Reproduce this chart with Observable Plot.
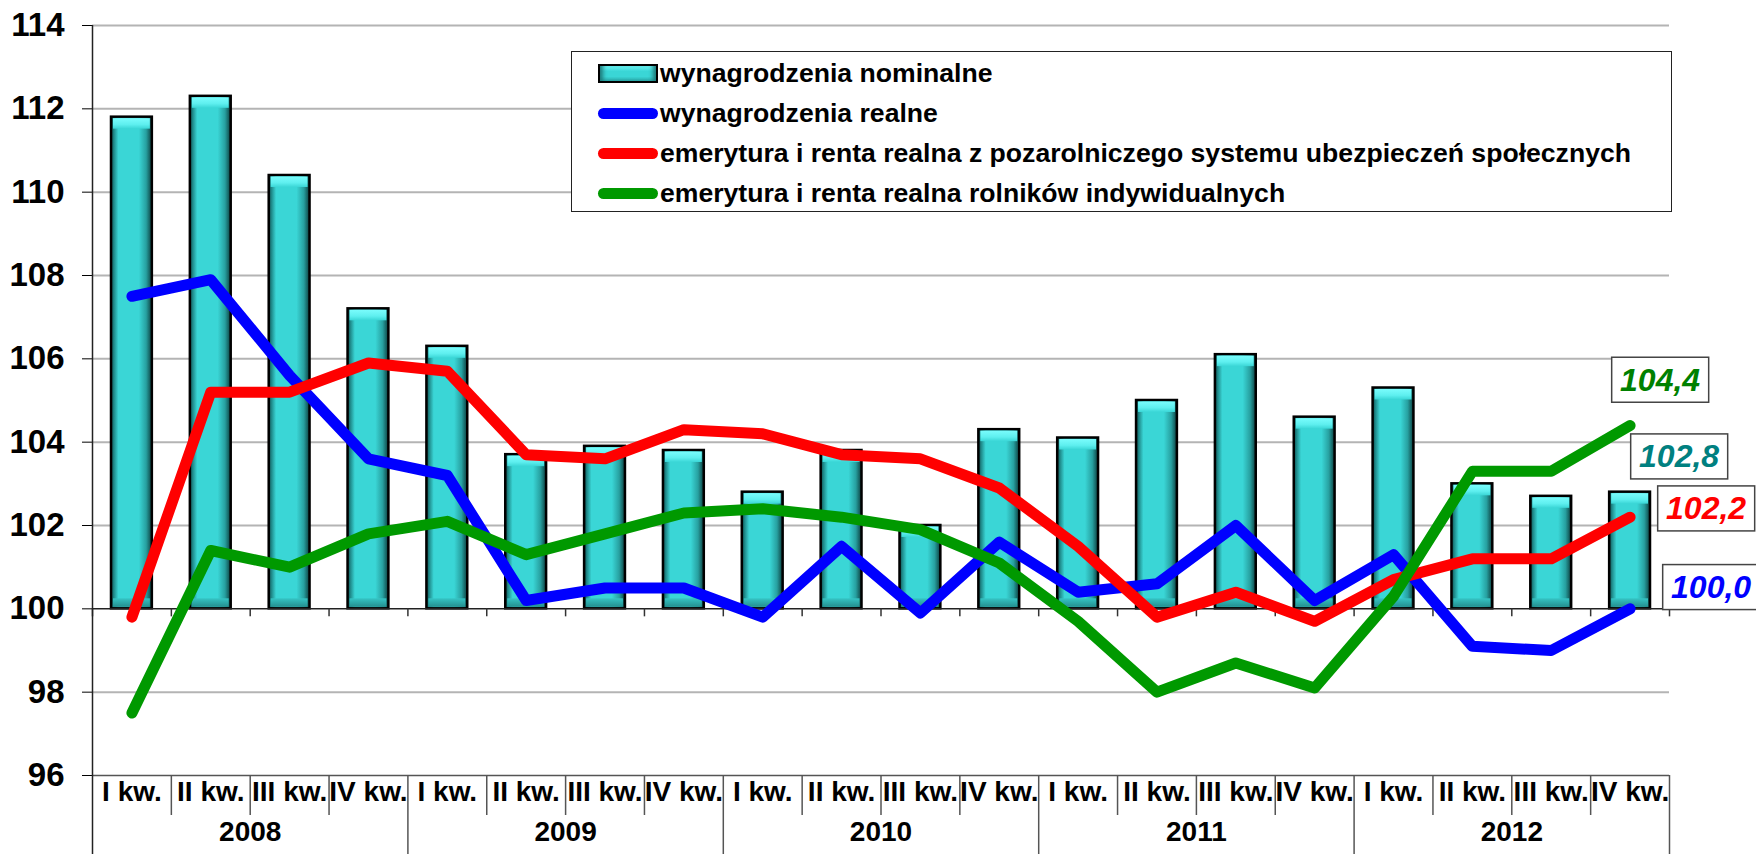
<!DOCTYPE html>
<html>
<head>
<meta charset="utf-8">
<script src="https://cdn.jsdelivr.net/npm/d3@7"></script>
<script src="https://cdn.jsdelivr.net/npm/@observablehq/plot@0.6"></script>
<style>
html, body { margin: 0; padding: 0; background: #fff; overflow: hidden; }
#wrap { position: relative; width: 1756px; height: 854px; }
#legend { position: absolute; left: 571px; top: 51px; width: 1101px; height: 161px; box-sizing: border-box;
  border: 1.5px solid #222; background: #fff; font: bold 26.6px "Liberation Sans", Arial, sans-serif; color: #000; }
#legend .row { position: absolute; left: 0; height: 40px; display: flex; align-items: center; white-space: nowrap; }
#legend .sw { position: absolute; left: 26px; }
#legend .lab { position: absolute; left: 88px; }
#legend .line { width: 60px; height: 11px; border-radius: 6px; }
#legend .bar { width: 56px; height: 15px; border: 2px solid #000;
  background: linear-gradient(to bottom, #6ff6f6 0%, #3ad6d6 35%, #3ad6d6 70%, #2aa8a8 100%);
  box-shadow: inset 6px 0 4px -3px #1d7a7a, inset -6px 0 4px -3px #1d7a7a; }
</style>
</head>
<body>
<div id="wrap"></div>
<script>
// ---- data ----
const quarters = ["I kw.", "II kw.", "III kw.", "IV kw."];
const years = ["2008", "2009", "2010", "2011", "2012"];
const nominalWages = [111.8, 112.3, 110.4, 107.2, 106.3, 103.7, 103.9, 103.8, 102.8, 103.8, 102.0, 104.3, 104.1, 105.0, 106.1, 104.6, 105.3, 103.0, 102.7, 102.8];
const realWages     = [107.5, 107.9, 105.6, 103.6, 103.2, 100.2, 100.5, 100.5, 99.8, 101.5, 99.9, 101.6, 100.4, 100.6, 102.0, 100.2, 101.3, 99.1, 99.0, 100.0];
const pensionNonAgri = [99.8, 105.2, 105.2, 105.9, 105.7, 103.7, 103.6, 104.3, 104.2, 103.7, 103.6, 102.9, 101.5, 99.8, 100.4, 99.7, 100.7, 101.2, 101.2, 102.2];
const pensionFarmers = [97.5, 101.4, 101.0, 101.8, 102.1, 101.3, 101.8, 102.3, 102.4, 102.2, 101.9, 101.1, 99.7, 98.0, 98.7, 98.1, 100.3, 103.3, 103.3, 104.4];
const seriesNames = [
  "wynagrodzenia nominalne",
  "wynagrodzenia realne",
  "emerytura i renta realna z pozarolniczego systemu ubezpieczeń społecznych",
  "emerytura i renta realna rolników indywidualnych"
];
const seriesColors = ["#3ad6d6", "#0000ff", "#ff0000", "#009900"];
const labelColors = ["#008080", "#0000ff", "#ff0000", "#008000"];
const yDomain = [96, 114];
const baseline = 100;

// ---- derived table ----
const rows = [];
years.forEach((yr, yi) => quarters.forEach((q, qi) => {
  const k = yi * quarters.length + qi;
  rows.push({k, year: yr, quarter: q, x1: k, x2: k + 1, xc: k + 0.5,
    nominal: nominalWages[k], real: realWages[k], nonagri: pensionNonAgri[k], farmers: pensionFarmers[k]});
}));
const n = rows.length;
const boundaries = d3.range(n + 1);
const last = rows[n - 1];
const fmt = v => v.toFixed(1).replace(".", ",");
const font = '"Liberation Sans", Arial, sans-serif';

const lineOpts = {strokeWidth: 11, strokeLinecap: "round", strokeLinejoin: "round"};

function valueLabel(key, color, dx, dy) {
  return Plot.text([last], {x: "xc", y: key, text: d => fmt(d[key]), fill: color, dx, dy,
    fontSize: 32, fontWeight: "bold", fontStyle: "italic", textAnchor: "middle", lineAnchor: "middle"});
}

const chart = Plot.plot({
  width: 1756, height: 854,
  marginLeft: 92, marginRight: 87, marginTop: 25, marginBottom: 79,
  x: {domain: [0, n], axis: null},
  y: {domain: yDomain, ticks: d3.range(yDomain[0], yDomain[1] + 1, 2), tickSize: 10, tickPadding: 18,
      label: null, tickFormat: d => String(d)},
  style: {fontFamily: font, fontSize: "33px", fontWeight: "bold", color: "#000", background: "#fff", overflow: "visible"},
  marks: [
    // gridlines
    Plot.ruleY(d3.range(yDomain[0], yDomain[1] + 1, 2).filter(v => v !== yDomain[0] && v !== baseline),
      {stroke: "#b4b4b4", strokeWidth: 2}),
    Plot.ruleY([yDomain[0]], {stroke: "#555", strokeWidth: 1.5}),
    // bars
    Plot.rectY(rows, {x1: "x1", x2: "x2", y1: baseline, y2: "nominal", insetLeft: 19, insetRight: 19,
      fill: "url(#barGrad)", stroke: "#000", strokeWidth: 2.5}),
    Plot.rectY(rows, {x1: "x1", x2: "x2", y1: "nominal", y2: "nominal", insetLeft: 21, insetRight: 21,
      insetTop: 1.5, insetBottom: -12, fill: "url(#topGrad)"}),
    Plot.rectY(rows, {x1: "x1", x2: "x2", y1: baseline, y2: baseline, insetLeft: 21, insetRight: 21,
      insetTop: -10, insetBottom: 1.5, fill: "url(#botGrad)"}),
    // x axis at baseline with ticks
    Plot.ruleY([baseline], {stroke: "#222", strokeWidth: 1.5}),
    Plot.ruleX(boundaries, {y1: baseline, y2: baseline, insetBottom: -8, stroke: "#333", strokeWidth: 1.5}),
    // left axis line down to the bottom
    Plot.ruleX([0], {insetBottom: -79, stroke: "#222", strokeWidth: 1.5}),
    // category table separators
    Plot.ruleX(boundaries.filter(b => b % quarters.length !== 0), {y1: yDomain[0], y2: yDomain[0], insetBottom: -40, stroke: "#555", strokeWidth: 1.5}),
    Plot.ruleX(boundaries.filter(b => b % quarters.length === 0 && b > 0), {y1: yDomain[0], y2: yDomain[0], insetBottom: -79, stroke: "#555", strokeWidth: 1.5}),
    // lines
    Plot.line(rows, {x: "xc", y: "real", stroke: seriesColors[1], ...lineOpts}),
    Plot.line(rows, {x: "xc", y: "nonagri", stroke: seriesColors[2], ...lineOpts}),
    Plot.line(rows, {x: "xc", y: "farmers", stroke: seriesColors[3], ...lineOpts}),
    // category labels
    Plot.text(rows, {x: "xc", text: "quarter", frameAnchor: "bottom", dy: 25, fontSize: 28, fontWeight: "bold"}),
    Plot.text(years, {x: (d, i) => i * quarters.length + quarters.length / 2, text: d => d, frameAnchor: "bottom", dy: 65, fontSize: 28, fontWeight: "bold"}),
    // end value labels
    valueLabel("farmers", labelColors[3], 30, -45),
    valueLabel("nominal", labelColors[0], 49, -35),
    valueLabel("nonagri", labelColors[2], 76, -8),
    valueLabel("real", labelColors[1], 81, -21)
  ]
});

// gradients for bevelled bars
const defs = d3.select(chart).insert("defs", ":first-child");
const g1 = defs.append("linearGradient").attr("id", "barGrad").attr("x1", 0).attr("x2", 1).attr("y1", 0).attr("y2", 0);
[[0, "#0e4a4a"], [0.07, "#1f8a8a"], [0.18, "#3ad6d6"], [0.68, "#3ad6d6"], [0.86, "#27a0a0"], [1, "#0c3d3d"]]
  .forEach(([o, c]) => g1.append("stop").attr("offset", o).attr("stop-color", c));
const g2 = defs.append("linearGradient").attr("id", "topGrad").attr("x1", 0).attr("x2", 0).attr("y1", 0).attr("y2", 1);
[[0, "#7afcfc"], [0.6, "#5eefef"], [1, "#3ad6d6"]].forEach(([o, c]) => g2.append("stop").attr("offset", o).attr("stop-color", c));
const g3 = defs.append("linearGradient").attr("id", "botGrad").attr("x1", 0).attr("x2", 0).attr("y1", 0).attr("y2", 1);
[[0, "#35c4c4"], [1, "#248f8f"]].forEach(([o, c]) => g3.append("stop").attr("offset", o).attr("stop-color", c));

const wrap = document.getElementById("wrap");
wrap.appendChild(chart);

// boxes behind the end value labels
const labelTexts = new Set([fmt(last.farmers), fmt(last.nominal), fmt(last.nonagri), fmt(last.real)]);
d3.select(chart).selectAll("text").each(function() {
  if (!labelTexts.has(this.textContent) || this.closest("[aria-label*='axis']")) return;
  const b = this.getBBox();
  const w = 97, h = 45;
  const r = document.createElementNS("http://www.w3.org/2000/svg", "rect");
  r.setAttribute("x", b.x + b.width / 2 - w / 2);
  r.setAttribute("y", b.y + b.height / 2 - h / 2);
  r.setAttribute("width", w);
  r.setAttribute("height", h);
  r.setAttribute("fill", "#fff");
  r.setAttribute("stroke", "#444");
  r.setAttribute("stroke-width", 1.5);
  const t = this.getAttribute("transform");
  if (t) r.setAttribute("transform", t);
  this.parentNode.insertBefore(r, this);
});

// legend
const legend = document.createElement("div");
legend.id = "legend";
seriesNames.forEach((name, i) => {
  const row = document.createElement("div");
  row.className = "row";
  row.style.top = (1 + i * 40) + "px";
  row.style.width = "100%";
  const sw = document.createElement("div");
  sw.className = "sw " + (i === 0 ? "bar" : "line");
  if (i > 0) sw.style.background = seriesColors[i];
  const lab = document.createElement("div");
  lab.className = "lab";
  lab.textContent = name;
  row.appendChild(sw);
  row.appendChild(lab);
  legend.appendChild(row);
});
wrap.appendChild(legend);
</script>
</body>
</html>
